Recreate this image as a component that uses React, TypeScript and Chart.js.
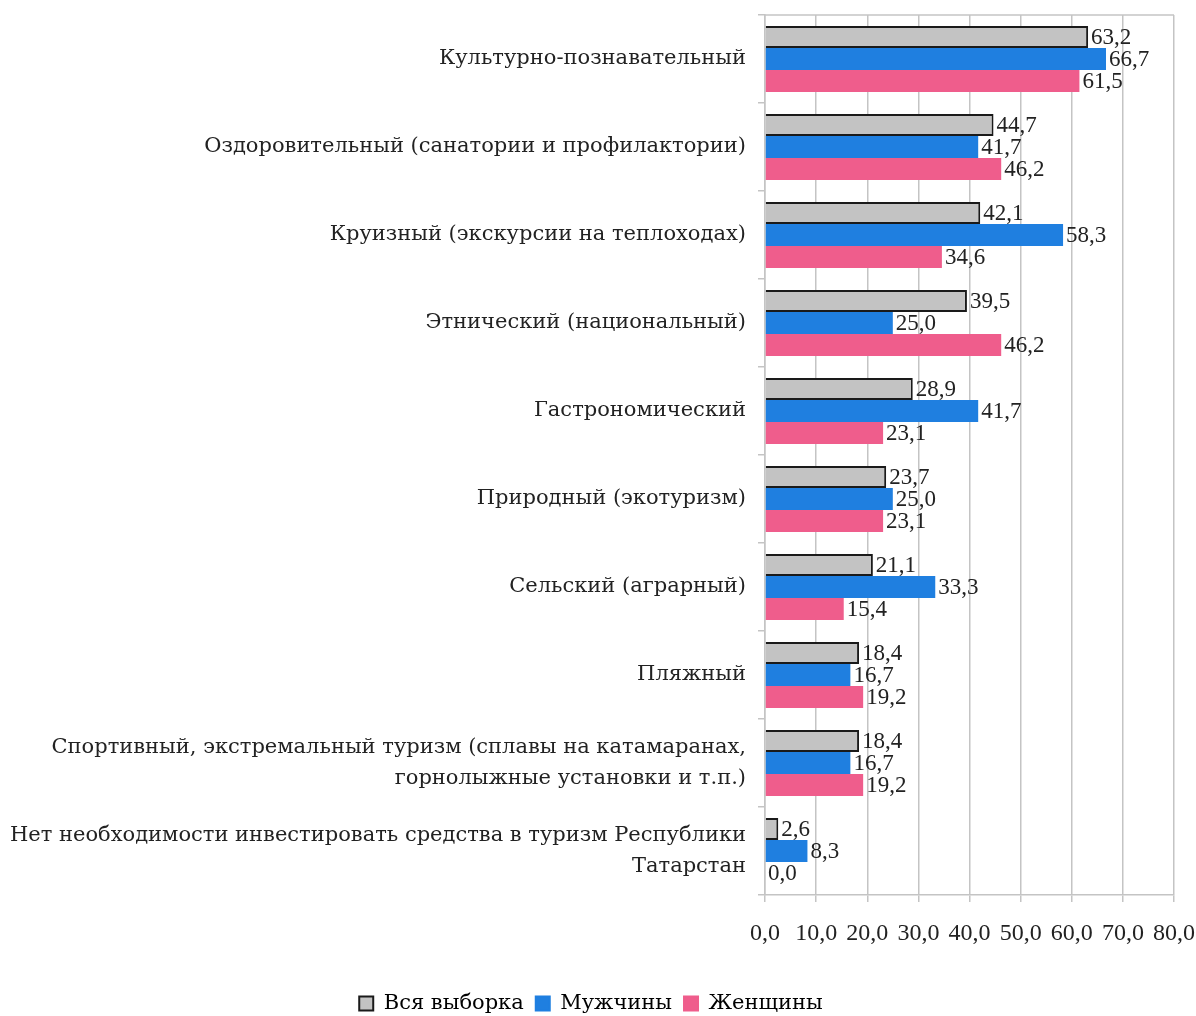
import React, { useEffect, useRef } from "react";
import { Chart, registerables } from "chart.js";

Chart.register(...registerables);

const categories: (string | string[])[] = [
  "Культурно-познавательный",
  "Оздоровительный (санатории и профилактории)",
  "Круизный (экскурсии на теплоходах)",
  "Этнический (национальный)",
  "Гастрономический",
  "Природный (экотуризм)",
  "Сельский (аграрный)",
  "Пляжный",
  ["Спортивный, экстремальный туризм (сплавы на катамаранах,", "горнолыжные установки и т.п.)"],
  ["Нет необходимости инвестировать средства в туризм Республики", "Татарстан"],
];

const seriesNames = ["Вся выборка", "Мужчины", "Женщины"];
const allSample = [63.2, 44.7, 42.1, 39.5, 28.9, 23.7, 21.1, 18.4, 18.4, 2.6];
const men = [66.7, 41.7, 58.3, 25.0, 41.7, 25.0, 33.3, 16.7, 16.7, 8.3];
const women = [61.5, 46.2, 34.6, 46.2, 23.1, 23.1, 15.4, 19.2, 19.2, 0.0];
const xTicks = [0, 10, 20, 30, 40, 50, 60, 70, 80];

const LABEL_FONT = "'DejaVu Serif', 'Liberation Serif', serif";
const NUM_FONT = "'Liberation Serif', 'Times New Roman', serif";
const fmt = (v: number) => v.toFixed(1).replace(".", ",");

const valueLabels = {
  id: "valueLabels",
  afterDatasetsDraw(chart: any) {
    const ctx = chart.ctx;
    ctx.save();
    ctx.font = `23px ${NUM_FONT}`;
    ctx.fillStyle = "#222";
    ctx.textBaseline = "middle";
    ctx.textAlign = "left";
    chart.data.datasets.forEach((ds: any, i: number) => {
      const meta = chart.getDatasetMeta(i);
      meta.data.forEach((bar: any, j: number) => {
        ctx.fillText(fmt(ds.data[j]), bar.x + 3, bar.y + 1);
      });
    });
    ctx.restore();
  },
};

const topBorder = {
  id: "topBorder",
  beforeDatasetsDraw(chart: any) {
    const { ctx, chartArea } = chart;
    ctx.save();
    ctx.strokeStyle = "#c4c4c4";
    ctx.lineWidth = 1.5;
    ctx.beginPath();
    ctx.moveTo(chartArea.left, chartArea.top);
    ctx.lineTo(chartArea.right, chartArea.top);
    ctx.stroke();
    ctx.restore();
  },
};

export default function App() {
  const ref = useRef<HTMLCanvasElement>(null);
  useEffect(() => {
    if (!ref.current) return;
    const chart = new Chart(ref.current, {
      type: "bar",
      data: {
        labels: categories,
        datasets: [
          {
            label: seriesNames[0],
            data: allSample,
            backgroundColor: "#c3c3c3",
            borderColor: "#1a1a1a",
            borderWidth: 2,
          },
          {
            label: seriesNames[1],
            data: men,
            backgroundColor: "#1f7fe0",
            borderColor: "#1f7fe0",
            borderWidth: 0,
          },
          {
            label: seriesNames[2],
            data: women,
            backgroundColor: "#ef5d8c",
            borderColor: "#ef5d8c",
            borderWidth: 0,
          },
        ],
      },
      options: {
        indexAxis: "y",
        animation: false,
        responsive: false,
        devicePixelRatio: 1,
        layout: { padding: { top: 15, right: 22, left: 8, bottom: -8 } },
        datasets: {
          bar: { categoryPercentage: 0.75, barPercentage: 1 },
        },
        scales: {
          x: {
            min: 0,
            max: 80,
            afterBuildTicks: (scale: any) => {
              scale.ticks = xTicks.map((v) => ({ value: v }));
            },
            afterFit: (scale: any) => {
              scale.height = 86;
              scale.paddingLeft = 0;
              scale.paddingRight = 0;
            },
            grid: { color: "#c4c4c4", lineWidth: 1.5, tickLength: 7 },
            border: { color: "#c4c4c4", width: 1.5 },
            ticks: {
              color: "#222",
              font: { family: NUM_FONT, size: 24 },
              padding: 17,
              maxRotation: 0,
              autoSkip: false,
              callback: (v: any) => fmt(Number(v)),
            },
          },
          y: {
            afterFit: (scale: any) => {
              scale.width = 757;
              scale.paddingTop = 0;
              scale.paddingBottom = 0;
            },
            grid: { display: true, drawOnChartArea: false, color: "#c4c4c4", lineWidth: 1.5, tickLength: 7, offset: true },
            border: { color: "#c4c4c4", width: 1.5 },
            ticks: {
              color: "#222",
              font: { family: LABEL_FONT, size: 21, lineHeight: 1.45 },
              padding: 12,
              autoSkip: false,
            },
          },
        },
        plugins: {
          legend: {
            position: "bottom",
            labels: {
              color: "#222",
              font: { family: LABEL_FONT, size: 21 },
              boxWidth: 14,
              boxHeight: 14,
              padding: 12,
              generateLabels: (chart: any) =>
                chart.data.datasets.map((ds: any, i: number) => ({
                  text: ds.label,
                  fillStyle: ds.backgroundColor,
                  strokeStyle: i === 0 ? "#1a1a1a" : ds.backgroundColor,
                  lineWidth: 2,
                  datasetIndex: i,
                  hidden: false,
                })),
            },
          },
          tooltip: { enabled: false },
        },
      },
      plugins: [valueLabels, topBorder],
    });
    return () => chart.destroy();
  }, []);
  return (
    <div style={{ position: "fixed", left: 0, top: 0, width: 1196, height: 1016, background: "#fff" }}>
      <canvas ref={ref} width={1196} height={1016} style={{ width: 1196, height: 1016 }} />
    </div>
  );
}
